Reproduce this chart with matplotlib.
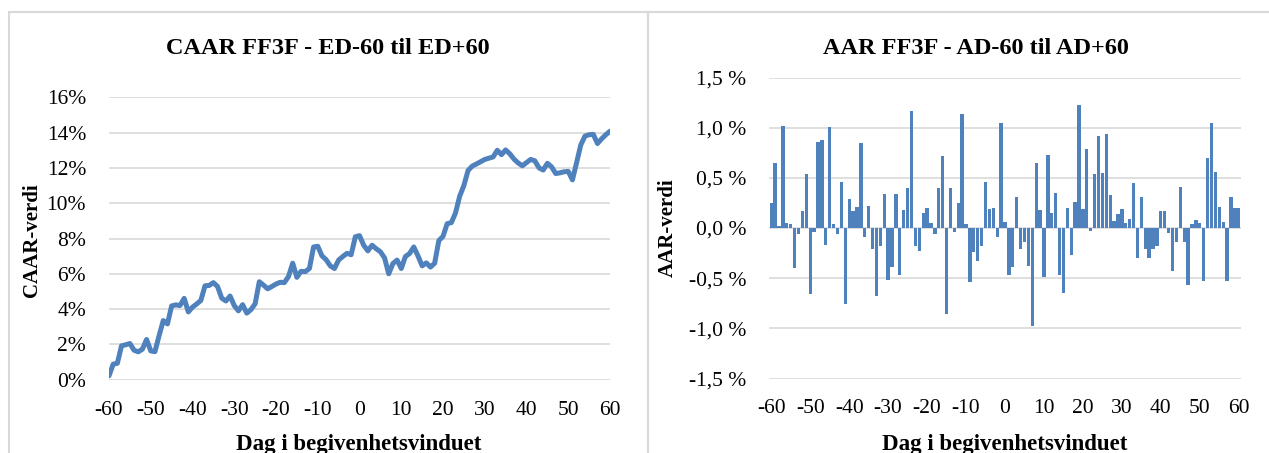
import matplotlib

matplotlib.use("Agg")
import matplotlib.pyplot as plt
from matplotlib.patches import Rectangle
from matplotlib.ticker import FuncFormatter, MultipleLocator

W, H = 1269, 453

# event window days
days = list(range(-60, 61))

# cumulative average abnormal return (%), ED-60 .. ED+60
caar = [
    0.22, 0.88, 0.93, 1.92, 1.98, 2.05, 1.67, 1.58, 1.73, 2.28,
    1.63, 1.59, 2.50, 3.35, 3.16, 4.18, 4.24, 4.20, 4.61, 3.84,
    4.11, 4.29, 4.49, 5.32, 5.34, 5.50, 5.28, 4.62, 4.46, 4.74,
    4.20, 3.90, 4.25, 3.77, 3.97, 4.30, 5.55, 5.36, 5.15, 5.28,
    5.42, 5.52, 5.50, 5.85, 6.60, 5.80, 6.14, 6.12, 6.30, 7.52,
    7.56, 7.02, 6.80, 6.45, 6.30, 6.78, 6.98, 7.16, 7.08, 8.10,
    8.16, 7.62, 7.30, 7.62, 7.42, 7.25, 6.90, 6.00, 6.58, 6.78,
    6.30, 6.98, 7.15, 7.52, 7.02, 6.45, 6.62, 6.38, 6.60, 7.88,
    8.12, 8.84, 8.90, 9.45, 10.40, 11.00, 11.85, 12.10, 12.22, 12.35,
    12.48, 12.55, 12.62, 13.00, 12.75, 13.02, 12.80, 12.50, 12.28, 12.12,
    12.30, 12.48, 12.40, 12.00, 11.88, 12.26, 12.06, 11.68, 11.72, 11.78,
    11.80, 11.32, 12.30, 13.30, 13.80, 13.88, 13.90, 13.38, 13.65, 13.88,
    14.08,
]

# average abnormal return (%), AD-60 .. AD+60
aar = [
    0.25, 0.65, 0.02, 1.02, 0.05, 0.04, -0.40, -0.06, 0.17, 0.54,
    -0.66, -0.04, 0.86, 0.88, -0.17, 1.01, 0.04, -0.06, 0.46, -0.76,
    0.29, 0.17, 0.21, 0.85, -0.09, 0.22, -0.21, -0.68, -0.18, 0.34,
    -0.52, -0.39, 0.34, -0.47, 0.18, 0.40, 1.17, -0.18, -0.23, 0.15,
    0.20, 0.05, -0.06, 0.40, 0.72, -0.86, 0.40, -0.04, 0.25, 1.14,
    0.04, -0.54, -0.24, -0.33, -0.18, 0.46, 0.19, 0.20, -0.09, 1.05,
    0.06, -0.47, -0.39, 0.31, -0.21, -0.14, -0.38, -0.98, 0.65, 0.18,
    -0.49, 0.73, 0.15, 0.35, -0.47, -0.65, 0.20, -0.27, 0.26, 1.23,
    0.19, 0.79, -0.03, 0.54, 0.92, 0.55, 0.94, 0.33, 0.07, 0.14,
    0.19, 0.05, 0.09, 0.45, -0.30, 0.31, -0.21, -0.30, -0.21, -0.18,
    0.17, 0.17, -0.05, -0.43, -0.14, 0.41, -0.14, -0.57, 0.04, 0.08,
    0.05, -0.53, 0.70, 1.05, 0.56, 0.21, 0.06, -0.53, 0.31, 0.20,
    0.20,
]

x_ticks = list(range(-60, 61, 10))

BLUE = "#4f81bd"
GRID = "#d9d9d9"

plt.rcParams["font.family"] = ["Liberation Serif", "DejaVu Serif"]
plt.rcParams["axes.unicode_minus"] = False


def fx(px):
    return px / W


def fy(py):
    return 1 - py / H


def style_axes(ax):
    for side in ax.spines.values():
        side.set_visible(False)
    ax.tick_params(length=0, labelsize=15.5, colors="black")
    ax.tick_params(axis="y", pad=16.5)
    ax.tick_params(axis="x", pad=15)
    ax.grid(axis="y", color=GRID, linewidth=1.2)
    ax.set_axisbelow(True)
    ax.set_xticks(x_ticks)
    ax.set_xticklabels([str(t) for t in x_ticks])


fig = plt.figure(figsize=(W / 100, H / 100), dpi=100)

# panel frames
for x0, x1 in [(9, 648), (648, 1290)]:
    fig.add_artist(Rectangle((fx(x0), fy(470)), fx(x1) - fx(x0), fy(12) - fy(470),
                             transform=fig.transFigure, fill=False,
                             edgecolor=GRID, linewidth=1.5))

# left: CAAR line
ax1 = fig.add_axes([fx(109), fy(379.7), fx(610) - fx(109), fy(97.3) - fy(379.7)])
ax1.plot(days, caar, color=BLUE, linewidth=3.6, solid_capstyle="round",
         solid_joinstyle="round")
ax1.set_xlim(-60, 60)
ax1.set_ylim(0, 16)
ax1.yaxis.set_major_locator(MultipleLocator(2))
ax1.yaxis.set_major_formatter(FuncFormatter(lambda v, _: f"{v:.0f}%"))
style_axes(ax1)

fig.text(fx(328), fy(48), "CAAR FF3F - ED-60 til ED+60", ha="center", va="center",
         fontsize=17.5, fontweight="bold")
fig.text(fx(32), fy(240), "CAAR-verdi", ha="center", va="center", rotation=90,
         fontsize=15, fontweight="bold")
fig.text(fx(359), fy(434), "Dag i begivenhetsvinduet", ha="center", va="top",
         fontsize=16.5, fontweight="bold")

# right: AAR bars
ax2 = fig.add_axes([fx(769.3), fy(378.5), fx(1240.7) - fx(769.3), fy(77.5) - fy(378.5)])
ax2.bar(days, aar, width=0.85, color=BLUE, edgecolor="none")
ax2.set_xlim(-60.5, 60.5)
ax2.set_ylim(-1.5, 1.5)
ax2.yaxis.set_major_locator(MultipleLocator(0.5))
ax2.yaxis.set_major_formatter(
    FuncFormatter(lambda v, _: f"{v:.1f} %".replace(".", ",")))
style_axes(ax2)

fig.text(fx(976), fy(48), "AAR FF3F - AD-60 til AD+60", ha="center", va="center",
         fontsize=17.5, fontweight="bold")
fig.text(fx(668), fy(228), "AAR-verdi", ha="center", va="center", rotation=90,
         fontsize=15, fontweight="bold")
fig.text(fx(1005), fy(434), "Dag i begivenhetsvinduet", ha="center", va="top",
         fontsize=16.5, fontweight="bold")

fig.savefig("out.png", dpi=100)
